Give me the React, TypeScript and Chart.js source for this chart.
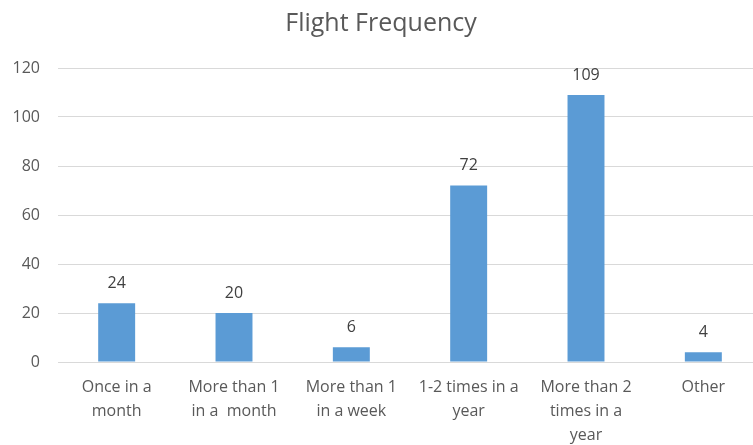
import React, { useEffect, useRef } from "react";
import { Chart, registerables } from "chart.js";

Chart.register(...registerables);

const categories: (string | string[])[] = [
  ["Once in a", "month"],
  ["More than 1", "in a  month"],
  ["More than 1", "in a week"],
  ["1-2 times in a", "year"],
  ["More than 2", "times in a", "year"],
  ["Other"],
];
const values: number[] = [24, 20, 6, 72, 109, 4];
const yTicks: number[] = [0, 20, 40, 60, 80, 100, 120];
const title = "Flight Frequency";

const FONT = "'Open Sans', 'Noto Sans', sans-serif";

const dataLabelPlugin = {
  id: "dataLabels",
  afterDatasetsDraw(chart: any) {
    const ctx = chart.ctx;
    const meta = chart.getDatasetMeta(0);
    ctx.save();
    ctx.font = `16px ${FONT}`;
    ctx.fillStyle = "#404040";
    ctx.textAlign = "center";
    ctx.textBaseline = "middle";
    meta.data.forEach((bar: any, i: number) => {
      ctx.fillText(String(values[i]), bar.x, bar.y - 20);
    });
    ctx.restore();
  },
};

export default function App() {
  const ref = useRef<HTMLCanvasElement | null>(null);
  useEffect(() => {
    if (!ref.current) return;
    const chart = new Chart(ref.current, {
      type: "bar",
      data: {
        labels: categories,
        datasets: [
          {
            data: values,
            backgroundColor: "#5B9BD5",
            borderWidth: 0,
            categoryPercentage: 1,
            barPercentage: 0.315,
          },
        ],
      },
      options: {
        animation: false,
        responsive: false,
        maintainAspectRatio: false,
        layout: { padding: { left: 0, right: 8, top: 0, bottom: 0 } },
        plugins: {
          legend: { display: false },
          tooltip: { enabled: false },
          title: {
            display: true,
            text: title,
            color: "#595959",
            font: { family: FONT, size: 25, weight: "normal" },
            padding: { top: 9, bottom: 29 },
          },
        },
        scales: {
          x: {
            grid: { display: false, drawTicks: false },
            border: { display: true, color: "#D9D9D9", width: 1 },
            ticks: {
              color: "#595959",
              font: { family: FONT, size: 16, lineHeight: 1.5 },
              padding: 13,
              maxRotation: 0,
              autoSkip: false,
            },
            afterFit(scale: any) {
              scale.height = 83;
            },
          },
          y: {
            min: 0,
            max: 120,
            afterBuildTicks(scale: any) {
              scale.ticks = yTicks.map((v) => ({ value: v }));
            },
            grid: { color: "#D9D9D9", drawTicks: false, lineWidth: 1 },
            border: { display: false },
            ticks: {
              color: "#595959",
              font: { family: FONT, size: 16 },
              padding: 18,
            },
            afterFit(scale: any) {
              scale.width = 58;
            },
          },
        },
      },
      plugins: [dataLabelPlugin],
    });
    return () => chart.destroy();
  }, []);
  return (
    <div
      style={{
        position: "fixed",
        left: 0,
        top: 0,
        width: 753,
        height: 445,
        overflow: "hidden",
        background: "#fff",
      }}
    >
      <canvas ref={ref} width={770} height={445} style={{ display: "block" }} />
    </div>
  );
}
